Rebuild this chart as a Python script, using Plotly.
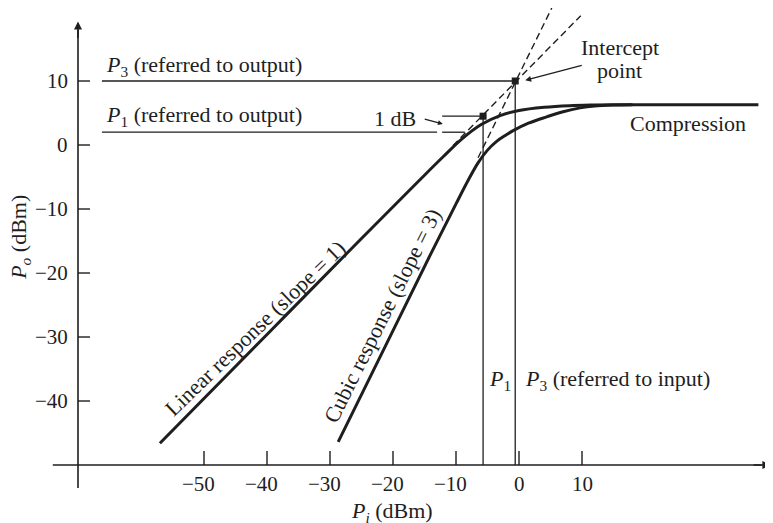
import plotly.graph_objects as go

# ---------------- data ----------------
lin_pi = [-57, -40, -25, -16, -12, -9, -6, -3, 0, 4, 8, 12, 16, 20, 38]
lin_po = [-46.6, -29.6, -14.6, -5.7, -1.8, 1.0, 3.2, 4.6, 5.4, 5.9, 6.15, 6.25, 6.3, 6.3, 6.3]

cub_pi = [-28.7, -20, -14, -10, -8, -6.5, -5, -3.5, -2, -1, 1.5, 4.4, 7, 9.7, 12, 15, 18]
cub_po = [-46.4, -29, -17, -9.2, -5.4, -2.8, -0.8, 0.6, 1.6, 2.2, 3.4, 4.4, 5.2, 5.8, 6.1, 6.25, 6.3]

lin_ext_pi = [-10.5, 9.8]
lin_ext_po = [-0.1, 20.2]
cub_ext_pi = [-6.5, 5.2]
cub_ext_po = [-2.0, 21.4]

intercept = (-0.6, 10.0)      # P3 in / out
p1_point = (-5.7, 4.5)        # 1 dB compression point
p1_out_level = 2.0
ref_left = -66.2
axis_x_at = -70.0
axis_y_at = -50.0

x_ticks = [-50, -40, -30, -20, -10, 0, 10]
y_ticks = [10, 0, -10, -20, -30, -40]

INK = "#1e1e1e"
FONT = "Liberation Serif"
FS = 22
TFS = 21

fig = go.Figure()

def seg(xs, ys, width=1.3, dash="solid", shape="linear"):
    fig.add_trace(go.Scatter(x=xs, y=ys, mode="lines", hoverinfo="skip",
                             line=dict(color=INK, width=width, dash=dash, shape=shape, smoothing=1.0)))

# main curves
seg(lin_pi, lin_po, width=3, shape="spline")
seg(cub_pi, cub_po, width=3, shape="spline")
# dashed extrapolations
seg(lin_ext_pi, lin_ext_po, width=1.4, dash="7px,4px")
seg(cub_ext_pi, cub_ext_po, width=1.4, dash="7px,4px")

# reference lines
seg([ref_left, intercept[0]], [intercept[1], intercept[1]], width=1.3)
seg([ref_left, -13.0], [p1_out_level, p1_out_level], width=1.3)
seg([-12.2, -8.6], [p1_out_level, p1_out_level], width=1.3)
seg([-12.2, p1_point[0]], [p1_point[1], p1_point[1]], width=1.3)
seg([p1_point[0], p1_point[0]], [p1_point[1], axis_y_at], width=1.3)
seg([intercept[0], intercept[0]], [intercept[1], axis_y_at], width=1.3)

# points
fig.add_trace(go.Scatter(x=[p1_point[0], intercept[0]], y=[p1_point[1], intercept[1]],
                         mode="markers", hoverinfo="skip",
                         marker=dict(symbol="square", size=7, color=INK)))

# axes lines
seg([axis_x_at, axis_x_at], [-53.6, 18.0], width=1.6)
seg([-74.0, 38.5], [axis_y_at, axis_y_at], width=1.6)

# ticks
for t in y_ticks:
    seg([axis_x_at, axis_x_at + 1.9], [t, t], width=1.4)
for t in x_ticks:
    seg([t, t], [axis_y_at, axis_y_at + 2.2], width=1.4)

ann = []
def text(x, y, s, xanchor="center", yanchor="middle", angle=0, size=FS, xshift=0):
    ann.append(dict(x=x, y=y, xref="x", yref="y", text=s, showarrow=False,
                    xanchor=xanchor, yanchor=yanchor, textangle=angle, xshift=xshift,
                    font=dict(family=FONT, size=size, color=INK)))

def arrow(x, y, ax, ay, head=2, width=1.4, size=1.0):
    ann.append(dict(x=x, y=y, ax=ax, ay=ay, xref="x", yref="y", axref="x", ayref="y",
                    text="", showarrow=True, arrowhead=head, arrowwidth=width,
                    arrowsize=size, arrowcolor=INK, standoff=0, startstandoff=0))

# axis arrowheads
arrow(39.9, axis_y_at, 37.0, axis_y_at, head=2, width=1.6)
arrow(axis_x_at, 19.3, axis_x_at, 16.5, head=2, width=1.6)

# tick labels
for t in y_ticks:
    lab = str(t).replace("-", "\u2212")
    text(-71.3, t, lab, xanchor="right", size=TFS)
for t in x_ticks:
    lab = str(t).replace("-", "\u2212")
    text(t, -53.0, lab, xshift=(-6 if t < 0 else 0), size=TFS)

# axis titles
text(-20.2, -57.3, "<i>P</i><sub><i>i</i></sub> (dBm)")
text(-79.2, -14.5, "<i>P</i><sub><i>o</i></sub> (dBm)", angle=-90)

# annotations
text(ref_left + 0.3, 12.3, "<i>P</i><sub>3</sub> (referred to output)", xanchor="left")
text(ref_left + 0.3, 4.5, "<i>P</i><sub>1</sub> (referred to output)", xanchor="left")
text(-19.7, 4.1, "1 dB")
arrow(-12.1, 3.3, -15.2, 4.1, head=2, width=1.2, size=0.8)
text(16.0, 15.3, "Intercept")
text(16.0, 11.6, "point")
arrow(1.0, 10.1, 10.2, 12.5, head=2, width=1.3, size=0.9)
text(26.8, 3.4, "Compression")
text(-3.0, -36.7, "<i>P</i><sub>1</sub>")
text(0.6, -36.7, "<i>P</i><sub>3</sub> (referred to input)", xanchor="left")
text(-41.9, -28.7, "Linear response (slope = 1)", angle=-44)
text(-21.7, -26.6, "Cubic response (slope = 3)", angle=-63.5)

# the page adds an 8 px body margin, so the figure is 765x515 and its
# ranges are set to match the reference's axes in the window
fig.update_layout(
    width=765, height=515,
    margin=dict(l=0, r=0, t=0, b=0),
    paper_bgcolor="white", plot_bgcolor="white",
    showlegend=False,
    xaxis=dict(range=[(8 - 519) / 6.3, (773 - 519) / 6.3], visible=False, fixedrange=True),
    yaxis=dict(range=[(145 - 523) / 6.4, (145 - 8) / 6.4], visible=False, fixedrange=True),
    annotations=ann,
)

fig.write_html("out.html")
